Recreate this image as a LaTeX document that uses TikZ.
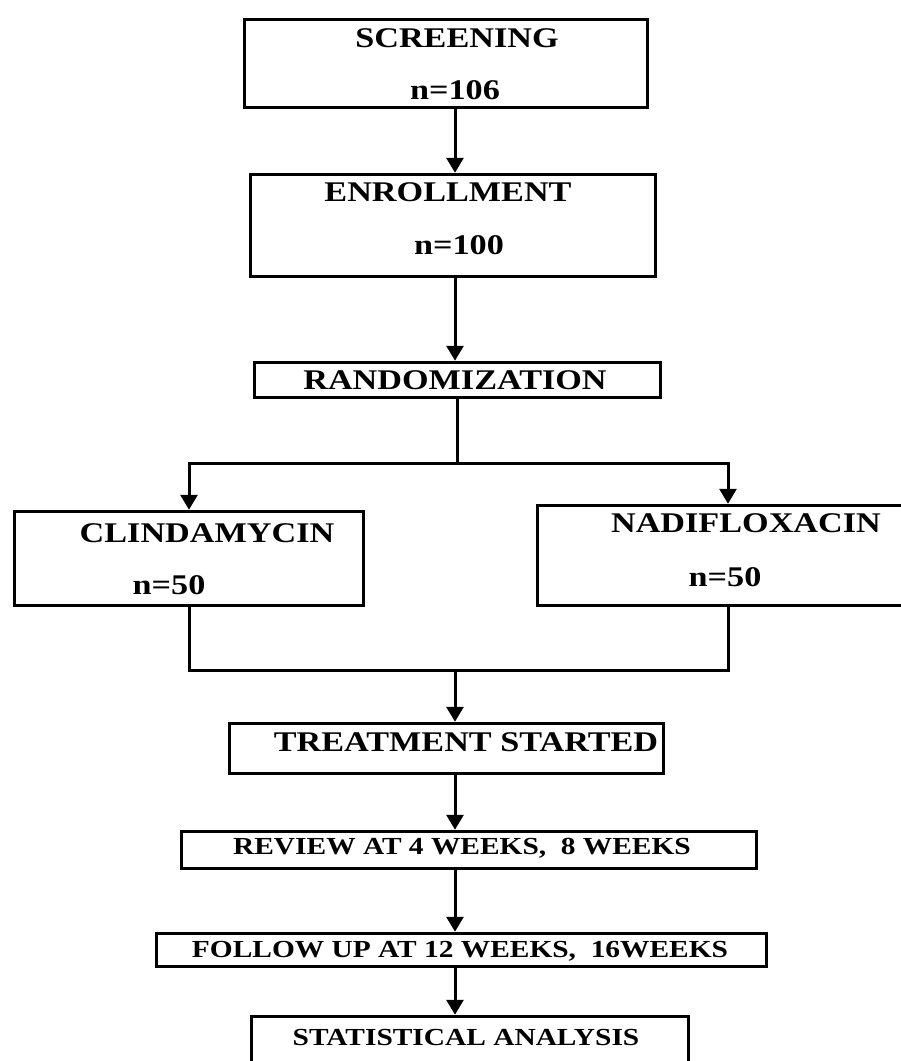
\documentclass[tikz,border=0pt]{standalone}
\usepackage{fontspec}
\setmainfont{Liberation Serif}[FakeStretch=1.2]
\usetikzlibrary{arrows.meta}
\begin{document}
\begin{tikzpicture}[x=1pt,y=-1pt]
\useasboundingbox (0,0) rectangle (901,1061);
\tikzstyle{boite}=[draw,line width=3.5pt,inner sep=0pt]
\tikzstyle{grand}=[font=\fontsize{28.5}{30}\selectfont\bfseries,inner sep=0pt]
\tikzstyle{petit}=[font=\fontsize{24.5}{26}\selectfont\bfseries,inner sep=0pt]
\tikzstyle{fleche}=[line width=3pt,-{Triangle[width=17pt,length=15pt]}]
\tikzstyle{trait}=[line width=3pt]
	\node[boite,minimum width=403pt,minimum height=88pt] (screen) at (446,63.5) {};
	\node[boite,minimum width=405pt,minimum height=102pt] (enroll) at (453,225.5) {};
	\node[boite,minimum width=406pt,minimum height=35pt] (rand) at (457.5,380) {};
	\node[boite,minimum width=349pt,minimum height=94pt] (clin) at (189,558.5) {};
	\node[boite,minimum width=381pt,minimum height=100pt] (nadi) at (728,555.5) {};
	\node[boite,minimum width=434pt,minimum height=50pt] (treat) at (446.5,748.5) {};
	\node[boite,minimum width=575pt,minimum height=37pt] (review) at (469,850) {};
	\node[boite,minimum width=610pt,minimum height=33pt] (follow) at (461.5,950) {};
	\node[boite,minimum width=437pt,minimum height=62pt] (stat) at (470,1047.5) {};
\par
	\node[grand] (screenT) at (457,38) {SCREENING};
	\node[grand] (screenN) at (455,90) {n=106};
	\node[grand] (enrollT) at (448,192) {ENROLLMENT};
	\node[grand] (enrollN) at (459,245) {n=100};
	\node[grand] (randT) at (455,380) {RANDOMIZATION};
	\node[grand] (clinT) at (207,533) {CLINDAMYCIN};
	\node[grand] (clinN) at (169,585) {n=50};
	\node[grand] (nadiT) at (746,523) {NADIFLOXACIN};
	\node[grand] (nadiN) at (725,577) {n=50};
	\node[grand] (treatT) at (466,742) {TREATMENT STARTED};
	\node[petit] (reviewT) at (462,848) {REVIEW AT 4 WEEKS,\ \ 8 WEEKS};
	\node[petit] (followT) at (460,951) {FOLLOW UP AT 12 WEEKS,\ \ 16WEEKS};
	\node[petit] (statT) at (466,1037) {STATISTICAL ANALYSIS};
\par
	\coordinate (axe) at (455,0);
	\coordinate (split) at (457,463);
	\coordinate (merge) at (455,670);
	\draw[fleche] (axe |- screen.south) -- (axe |- enroll.north);
	\draw[fleche] (axe |- enroll.south) -- (axe |- rand.north);
	\draw[trait] (split |- rand.south) -- (split);
	\draw[fleche] (split) -| (clin.north);
	\draw[fleche] (split) -| (nadi.north);
	\draw[trait] (clin.south) |- (merge);
	\draw[trait] (nadi.south) |- (merge);
	\draw[fleche] (merge) -- (axe |- treat.north);
	\draw[fleche] (axe |- treat.south) -- (axe |- review.north);
	\draw[fleche] (axe |- review.south) -- (axe |- follow.north);
	\draw[fleche] (axe |- follow.south) -- (axe |- stat.north);
\end{tikzpicture}
\end{document}
